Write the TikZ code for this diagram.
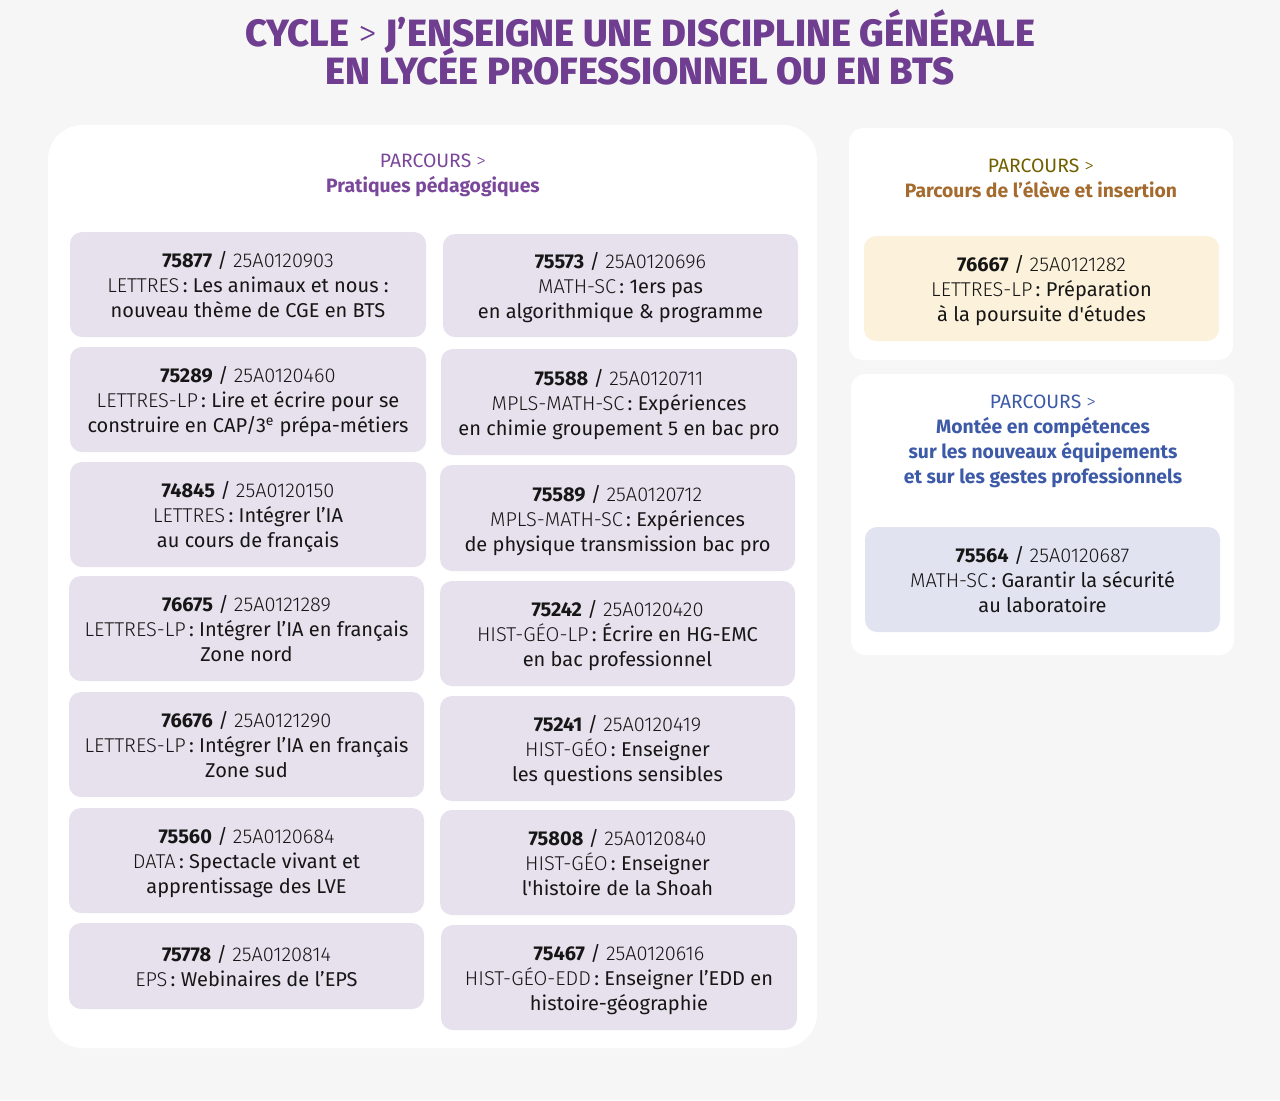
\documentclass[tikz,border=0pt]{standalone}
\usepackage{fontspec}
\setmainfont{Fira Sans}
\newfontfamily\lightfont{Fira Sans Light}
\newfontfamily\titlefont{Fira Sans ExtraBold}
\definecolor{bgc}{HTML}{F6F6F6}
\definecolor{titlec}{HTML}{6F3E91}
\definecolor{purplec}{HTML}{7A479B}
\definecolor{cardp}{HTML}{E6E1ED}
\definecolor{cardy}{HTML}{FCF1DA}
\definecolor{cardb}{HTML}{E1E4F0}
\definecolor{olivec}{HTML}{716000}
\definecolor{brownc}{HTML}{A46A2E}
\definecolor{bluec}{HTML}{3D5AA8}
\definecolor{txt}{HTML}{161616}
\newcommand\entry[4]{\textbf{#1} / {\lightfont #2}\\{\lightfont #3}\,: #4}
\newcommand\boxat[7]{%
  \node[#6, minimum width={(#4-#2)*0.75pt}, minimum height={(#5-#3)*0.75pt}]
    (#1) at ({(#2+#4)/2},{(#3+#5)/2}) {#7};}
\tikzset{
  panel/.style={fill=white, rounded corners=11pt, inner sep=0pt},
  bigpanel/.style={fill=white, rounded corners=26pt, inner sep=0pt},
  card/.style={fill=cardp, rounded corners=9pt, inner sep=0pt, align=center,
    text=txt, font=\fontsize{15}{18.75}\selectfont, text depth=0pt},
  hdr/.style={align=center, font=\fontsize{14.5}{18.75}\selectfont, inner sep=0pt},
  ttl/.style={text=titlec, inner sep=0pt, anchor=base,
    font=\titlefont\fontsize{28.5}{30}\selectfont},
}
\begin{document}
\begin{tikzpicture}[x=0.75pt,y=-0.75pt]
\fill[bgc] (0,0) rectangle (1280,1100);
\useasboundingbox (0,0) rectangle (1280,1100);
% title
\node[ttl] (title1) at (640,46) {CYCLE {\lightfont >} J’ENSEIGNE UNE DISCIPLINE GÉNÉRALE};
\node[ttl] (title2) at (640,84) {EN LYCÉE PROFESSIONNEL OU EN BTS};
% panels
\boxat{P1}{48}{125}{817}{1048}{bigpanel}{}
\boxat{P2}{849}{128}{1233}{360}{panel}{}
\boxat{P3}{851}{374}{1234}{655}{panel}{}
% headers
\node[hdr, text=purplec] (h1) at (433,175.5)
  {PARCOURS {\lightfont >}\\\textbf{Pratiques pédagogiques}};
\node[hdr] (h2) at (1041,178.5)
  {{\color{olivec}PARCOURS {\lightfont >}}\\{\color{brownc}\textbf{Parcours de l’élève et insertion}}};
\node[hdr, text=bluec] (h3) at (1043,441.5)
  {PARCOURS {\lightfont >}\\\textbf{Montée en compétences}\\\textbf{sur les nouveaux équipements}\\\textbf{et sur les gestes professionnels}};
% left column
\boxat{L1}{70}{232}{426}{337}{card}{\entry{75877}{25A0120903}{LETTRES}{Les animaux et nous :\\nouveau thème de CGE en BTS}}
\boxat{L2}{70}{347}{426}{452}{card}{\entry{75289}{25A0120460}{LETTRES-LP}{Lire et écrire pour se\\construire en CAP/3\textsuperscript{e} prépa-métiers}}
\boxat{L3}{70}{462}{426}{567}{card}{\entry{74845}{25A0120150}{LETTRES}{Intégrer l’IA\\au cours de français}}
\boxat{L4}{69}{576}{424}{681}{card}{\entry{76675}{25A0121289}{LETTRES-LP}{Intégrer l’IA en français\\Zone nord}}
\boxat{L5}{69}{692}{424}{797}{card}{\entry{76676}{25A0121290}{LETTRES-LP}{Intégrer l’IA en français\\Zone sud}}
\boxat{L6}{69}{808}{424}{913}{card}{\entry{75560}{25A0120684}{DATA}{Spectacle vivant et\\apprentissage des LVE}}
\boxat{L7}{69}{923}{424}{1009}{card}{\entry{75778}{25A0120814}{EPS}{Webinaires de l’EPS}}
% right column
\boxat{R1}{443}{234}{798}{337}{card}{\entry{75573}{25A0120696}{MATH-SC}{1ers pas\\en algorithmique \& programme}}
\boxat{R2}{441}{349}{797}{455}{card}{\entry{75588}{25A0120711}{MPLS-MATH-SC}{Expériences\\en chimie groupement 5 en bac pro}}
\boxat{R3}{440}{465}{795}{571}{card}{\entry{75589}{25A0120712}{MPLS-MATH-SC}{Expériences\\de physique transmission bac pro}}
\boxat{R4}{440}{581}{795}{686}{card}{\entry{75242}{25A0120420}{HIST-GÉO-LP}{Écrire en HG-EMC\\en bac professionnel}}
\boxat{R5}{440}{696}{795}{801}{card}{\entry{75241}{25A0120419}{HIST-GÉO}{Enseigner\\les questions sensibles}}
\boxat{R6}{440}{810}{795}{915}{card}{\entry{75808}{25A0120840}{HIST-GÉO}{Enseigner\\l\textquotesingle histoire de la Shoah}}
\boxat{R7}{441}{925}{797}{1030}{card}{\entry{75467}{25A0120616}{HIST-GÉO-EDD}{Enseigner l’EDD en\\histoire-géographie}}
% right panels cards
\boxat{Y1}{864}{236}{1219}{341}{card, fill=cardy}{\entry{76667}{25A0121282}{LETTRES-LP}{Préparation\\à la poursuite d\textquotesingle études}}
\boxat{B1}{865}{527}{1220}{632}{card, fill=cardb}{\entry{75564}{25A0120687}{MATH-SC}{Garantir la sécurité\\au laboratoire}}
\end{tikzpicture}
\end{document}
